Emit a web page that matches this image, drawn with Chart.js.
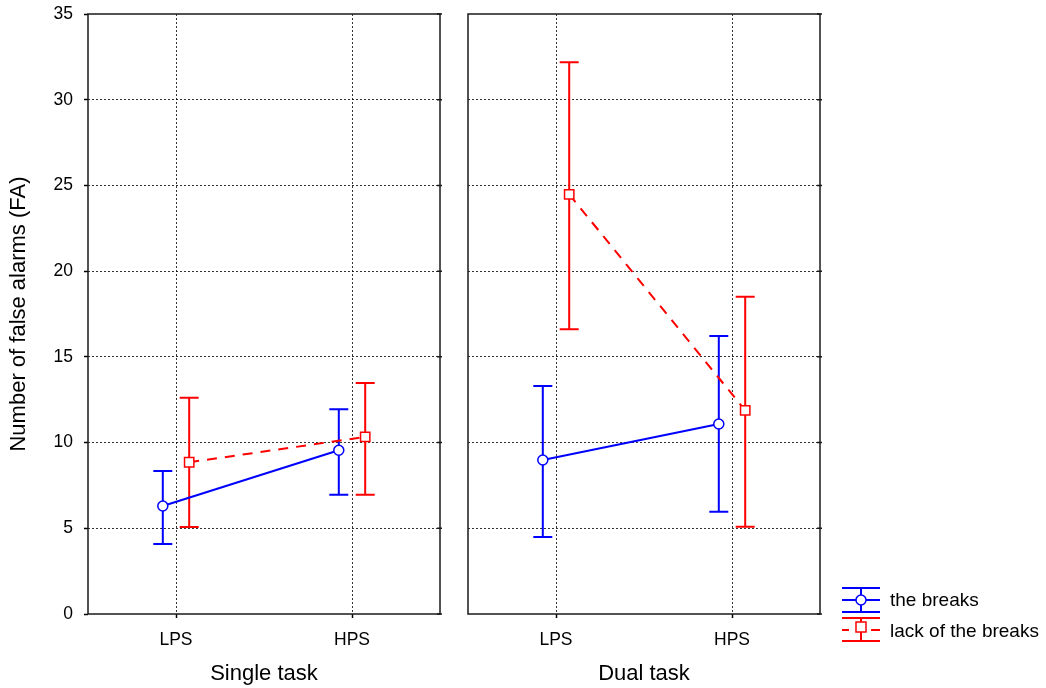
<!DOCTYPE html>
<html>
<head>
<meta charset="utf-8">
<script src="https://cdn.jsdelivr.net/npm/chart.js@4.4.1/dist/chart.umd.min.js"></script>
<style>
    html, body { margin: 0; padding: 0; background: #fff; }
    #wrap { position: relative; width: 1046px; height: 688px; }
    #left { position: absolute; left: 0; top: 0; }
    #right { position: absolute; left: 440px; top: 0; }
</style>
</head>
<body>
<div id="wrap">
    <canvas id="left" width="450" height="688"></canvas>
    <canvas id="right" width="606" height="688"></canvas>
</div>
<script>
// ---- data ----
const categories = ['LPS', 'HPS'];
const panelTitles = ['Single task', 'Dual task'];
const seriesNames = ['the breaks', 'lack of the breaks'];
const yTicks = [0, 5, 10, 15, 20, 25, 30, 35];

// Single task
const singleBreaks = [6.3, 9.55];
const singleBreaksLow = [4.08, 6.96];
const singleBreaksHigh = [8.34, 11.94];
const singleNoBreaks = [8.85, 10.33];
const singleNoBreaksLow = [5.08, 6.96];
const singleNoBreaksHigh = [12.62, 13.48];

// Dual task
const dualBreaks = [8.98, 11.08];
const dualBreaksLow = [4.49, 5.97];
const dualBreaksHigh = [13.30, 16.22];
const dualNoBreaks = [24.48, 11.88];
const dualNoBreaksLow = [16.61, 5.09];
const dualNoBreaksHigh = [32.19, 18.51];

const BLUE = '#0000ff';
const RED = '#ff0000';
const FONT = "'Liberation Sans', Arial, sans-serif";
const SHIFT = 0.075; // horizontal dodge of the two series

// error bars drawn under the lines/markers
const errorBarPlugin = {
    id: 'errorBars',
    beforeDatasetsDraw(chart) {
        const { ctx, scales: { x, y } } = chart;
        chart.data.datasets.forEach(ds => {
            if (!ds.errLow) return;
            ctx.save();
            ctx.strokeStyle = ds.borderColor;
            ctx.lineWidth = 2;
            ds.data.forEach((pt, i) => {
                const px = x.getPixelForValue(pt.x);
                const lo = y.getPixelForValue(ds.errLow[i]);
                const hi = y.getPixelForValue(ds.errHigh[i]);
                ctx.beginPath();
                ctx.moveTo(px, lo); ctx.lineTo(px, hi);
                ctx.moveTo(px - 9.5, lo); ctx.lineTo(px + 9.5, lo);
                ctx.moveTo(px - 9.5, hi); ctx.lineTo(px + 9.5, hi);
                ctx.stroke();
            });
            ctx.restore();
        });
    }
};

// solid frame round the plot area + small ticks on the right edge
const framePlugin = {
    id: 'frame',
    afterDraw(chart) {
        const { ctx, chartArea: a, scales: { y } } = chart;
        ctx.save();
        ctx.strokeStyle = '#1a1a1a';
        ctx.lineWidth = 1.5;
        ctx.strokeRect(a.left, a.top, a.right - a.left, a.bottom - a.top);
        ctx.beginPath();
        yTicks.forEach(v => {
            const py = y.getPixelForValue(v);
            ctx.moveTo(a.right - 3, py); ctx.lineTo(a.right + 2, py);
        });
        ctx.stroke();
        ctx.restore();
    }
};

// legend to the right of the second panel
const legendPlugin = {
    id: 'sideLegend',
    afterDraw(chart) {
        const { ctx, chartArea: a } = chart;
        const x0 = a.right + 22, x1 = a.right + 60, xm = a.right + 41;
        ctx.save();
        ctx.lineWidth = 2;
        ctx.font = '19px ' + FONT;
        ctx.textBaseline = 'middle';
        ctx.fillStyle = '#000';

        // the breaks
        let yc = a.bottom - 14;
        ctx.strokeStyle = BLUE;
        ctx.beginPath();
        ctx.moveTo(x0, yc - 12); ctx.lineTo(x1, yc - 12);
        ctx.moveTo(x0, yc + 12); ctx.lineTo(x1, yc + 12);
        ctx.moveTo(x0, yc); ctx.lineTo(x1, yc);
        ctx.moveTo(xm, yc - 12); ctx.lineTo(xm, yc + 12);
        ctx.stroke();
        ctx.beginPath();
        ctx.arc(xm, yc, 5, 0, Math.PI * 2);
        ctx.fillStyle = '#fff';
        ctx.fill();
        ctx.lineWidth = 1.5;
        ctx.stroke();
        ctx.fillStyle = '#000';
        ctx.fillText(seriesNames[0], a.right + 70, yc + 1);

        // lack of the breaks
        yc = a.bottom + 16;
        ctx.lineWidth = 2;
        ctx.strokeStyle = RED;
        ctx.beginPath();
        ctx.moveTo(x0, yc - 12); ctx.lineTo(x1, yc - 12);
        ctx.moveTo(x0, yc + 11); ctx.lineTo(x1, yc + 11);
        ctx.moveTo(x0, yc); ctx.lineTo(x0 + 7, yc);
        ctx.moveTo(x1 - 9, yc); ctx.lineTo(x1, yc);
        ctx.moveTo(xm, yc - 12); ctx.lineTo(xm, yc - 7);
        ctx.moveTo(xm, yc + 2); ctx.lineTo(xm, yc + 11);
        ctx.stroke();
        ctx.lineWidth = 1.5;
        ctx.fillStyle = '#fff';
        ctx.fillRect(xm - 5, yc - 8, 10, 10);
        ctx.strokeRect(xm - 5, yc - 8, 10, 10);
        ctx.fillStyle = '#000';
        ctx.fillText(seriesNames[1], a.right + 70, yc + 2);
        ctx.restore();
    }
};

function makeSeries(values, low, high, shift, color, dashed) {
    return {
        label: dashed ? seriesNames[1] : seriesNames[0],
        data: values.map((v, i) => ({ x: i + shift, y: v })),
        errLow: low,
        errHigh: high,
        borderColor: color,
        borderWidth: 2,
        borderDash: dashed ? [10, 8] : [],
        pointStyle: dashed ? 'rect' : 'circle',
        pointRadius: dashed ? 6.6 : 5,
        pointBorderWidth: 1.5,
        pointBackgroundColor: '#fff',
        pointBorderColor: color,
        fill: false,
        tension: 0
    };
}

function buildPanel(canvasId, title, datasets, showYLabels, extraPlugins) {
    const canvas = document.getElementById(canvasId);
    return new Chart(canvas, {
        type: 'line',
        data: { datasets },
        options: {
            responsive: false,
            animation: false,
            devicePixelRatio: 1,
            layout: {
                padding: { top: 14, right: showYLabels ? 10 : 226, left: 0, bottom: 0 }
            },
            plugins: {
                legend: { display: false },
                tooltip: { enabled: false }
            },
            scales: {
                x: {
                    type: 'linear',
                    min: -0.5,
                    max: 1.5,
                    afterBuildTicks: (s) => { s.ticks = categories.map((c, i) => ({ value: i })); },
                    afterFit: (s) => { s.height = 74; s.paddingLeft = 0; s.paddingRight = 0; },
                    grid: {
                        color: 'rgba(0,0,0,0.8)',
                        lineWidth: 1,
                        tickLength: 4,
                        tickColor: '#000',
                        tickWidth: 1.5
                    },
                    border: { display: false, dash: [2, 2] },
                    ticks: {
                        callback: (v) => categories[v],
                        color: '#000',
                        padding: 12,
                        maxRotation: 0,
                        font: { family: FONT, size: 17.5, lineHeight: 1.2 }
                    },
                    title: {
                        display: true,
                        text: title,
                        color: '#000',
                        padding: { top: 0, bottom: 1 },
                        font: { family: FONT, size: 22, lineHeight: 1.2 }
                    }
                },
                y: {
                    min: 0,
                    max: 35,
                    afterBuildTicks: (s) => { s.ticks = yTicks.map(v => ({ value: v })); },
                    // fixed axis width; drop the label overflow padding so the plot top stays at 14px
                    afterFit: (s) => { s.width = showYLabels ? 88 : 28; s.paddingTop = 0; s.paddingBottom = 0; },
                    grid: {
                        color: (ctx) => (ctx.tick.value === 0 || ctx.tick.value === 35) ? 'rgba(0,0,0,0)' : 'rgba(0,0,0,0.8)',
                        lineWidth: 1,
                        drawTicks: showYLabels,
                        tickLength: 4,
                        tickColor: '#000',
                        tickWidth: 1.5
                    },
                    border: { display: false, dash: [2, 2] },
                    ticks: {
                        display: showYLabels,
                        color: '#000',
                        padding: 11,
                        font: { family: FONT, size: 17.5, lineHeight: 1.2 }
                    },
                    title: {
                        display: showYLabels,
                        text: 'Number of false alarms (FA)',
                        color: '#000',
                        padding: { top: 6, bottom: 0 },
                        font: { family: FONT, size: 22, lineHeight: 1.2 }
                    }
                }
            }
        },
        plugins: [errorBarPlugin, framePlugin].concat(extraPlugins || [])
    });
}

buildPanel('left', panelTitles[0], [
    makeSeries(singleNoBreaks, singleNoBreaksLow, singleNoBreaksHigh, SHIFT, RED, true),
    makeSeries(singleBreaks, singleBreaksLow, singleBreaksHigh, -SHIFT, BLUE, false)
], true);

buildPanel('right', panelTitles[1], [
    makeSeries(dualNoBreaks, dualNoBreaksLow, dualNoBreaksHigh, SHIFT, RED, true),
    makeSeries(dualBreaks, dualBreaksLow, dualBreaksHigh, -SHIFT, BLUE, false)
], false, [legendPlugin]);
</script>
</body>
</html>
